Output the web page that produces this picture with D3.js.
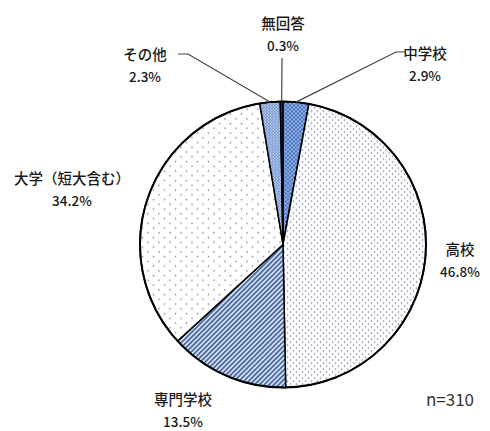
<!DOCTYPE html>
<html>
<head>
<meta charset="UTF-8">
<title>pie</title>
<script src="https://cdn.jsdelivr.net/npm/d3@7"></script>
<style>
  body { margin: 0; background: #fff; }
  text { font-family: "Noto Sans CJK JP", sans-serif; fill: #1a1a1a; font-weight: 500; }
</style>
</head>
<body>
<script>
var w = 490, h = 431;

// data
var categories = ["中学校", "高校", "専門学校", "大学（短大含む）", "その他", "無回答"];
var values = [2.9, 46.8, 13.5, 34.2, 2.3, 0.3];
var sampleLabel = "n=310";

// layout (label anchors, leader line starts)
var cx = 283, cy = 244.5, r = 143;
var labelPos = [
  { x: 425, y: 52, line: [[406, 52], [396, 52]] },
  { x: 460, y: 248, line: null },
  { x: 183, y: 398, line: null },
  { x: 72, y: 177, line: null },
  { x: 145, y: 53, line: [[178, 54], [188, 54]] },
  { x: 283, y: 22, line: [[282, 58]] }
];
var patternIds = ["pJunior", "pHigh", "pVoc", "pUniv", "pOther", "pNone"];

var svg = d3.select("body").append("svg")
  .attr("width", w).attr("height", h);

var defs = svg.append("defs");

function dotPattern(id, size, bg, dotColor, rad, pts) {
  var p = defs.append("pattern").attr("id", id)
    .attr("patternUnits", "userSpaceOnUse")
    .attr("width", size[0]).attr("height", size[1]);
  p.append("rect").attr("width", size[0]).attr("height", size[1]).attr("fill", bg);
  pts.forEach(function(d) {
    p.append("circle").attr("cx", d[0]).attr("cy", d[1]).attr("r", rad).attr("fill", dotColor);
  });
}

dotPattern("pJunior", [4, 4], "#4472c4", "#ffffff", 0.8, [[1, 1], [3, 3]]);
dotPattern("pHigh", [6, 6], "#ffffff", "#7883a6", 0.85, [[1.5, 1.5], [4.5, 4.5]]);
dotPattern("pUniv", [11, 9.5], "#ffffff", "#8a92ad", 0.8, [[2.5, 2.5], [8, 7.25]]);
dotPattern("pOther", [3, 3], "#5b84cc", "#ffffff", 0.75, [[0.75, 0.75], [2.25, 2.25]]);
dotPattern("pNone", [4, 4], "#1f3864", "#1f3864", 0.1, []);

var stripe = defs.append("pattern").attr("id", "pVoc")
  .attr("patternUnits", "userSpaceOnUse")
  .attr("width", 3.4).attr("height", 3.4)
  .attr("patternTransform", "rotate(45)");
stripe.append("rect").attr("width", 3.4).attr("height", 3.4).attr("fill", "#dce6f4");
stripe.append("rect").attr("width", 1.8).attr("height", 3.4).attr("fill", "#4a6aa2");

var pie = d3.pie().sort(null).value(function(d) { return d; });
var arcs = pie(values);
var arc = d3.arc().innerRadius(0).outerRadius(r);

var g = svg.append("g").attr("transform", "translate(" + cx + "," + cy + ")");

g.selectAll(".slice")
  .data(arcs)
  .enter()
  .append("path")
  .classed("slice", true)
  .attr("d", arc)
  .attr("fill", function(d, i) { return "url(#" + patternIds[i] + ")"; })
  .attr("stroke", "#000")
  .attr("stroke-width", 1.5)
  .attr("stroke-linejoin", "round");

g.append("circle").attr("r", r)
  .attr("fill", "none").attr("stroke", "#000").attr("stroke-width", 2);

// leader lines
arcs.forEach(function(d, i) {
  var lp = labelPos[i];
  if (!lp.line) return;
  var mid = (d.startAngle + d.endAngle) / 2;
  var end = [cx + r * Math.sin(mid), cy - r * Math.cos(mid)];
  var pts = lp.line.concat([end]);
  svg.append("path")
    .attr("d", d3.line()(pts))
    .attr("fill", "none")
    .attr("stroke", "#444")
    .attr("stroke-width", 1.2);
});

// labels
var labels = svg.selectAll(".label")
  .data(arcs)
  .enter()
  .append("g")
  .classed("label", true);

labels.append("text")
  .attr("x", function(d, i) { return labelPos[i].x; })
  .attr("y", function(d, i) { return labelPos[i].y; })
  .attr("text-anchor", "middle")
  .attr("dominant-baseline", "central")
  .style("font-size", "14.5px")
  .text(function(d, i) { return categories[i]; });

labels.append("text")
  .attr("x", function(d, i) { return labelPos[i].x; })
  .attr("y", function(d, i) { return labelPos[i].y + 23; })
  .attr("text-anchor", "middle")
  .attr("dominant-baseline", "central")
  .style("font-size", "13.5px")
  .text(function(d) { return d.data.toFixed(1) + "%"; });

svg.append("text")
  .attr("x", 450).attr("y", 398)
  .attr("text-anchor", "middle")
  .attr("dominant-baseline", "central")
  .style("font-size", "17px")
  .style("font-weight", "400")
  .style("fill", "#333")
  .text(sampleLabel);
</script>
</body>
</html>
